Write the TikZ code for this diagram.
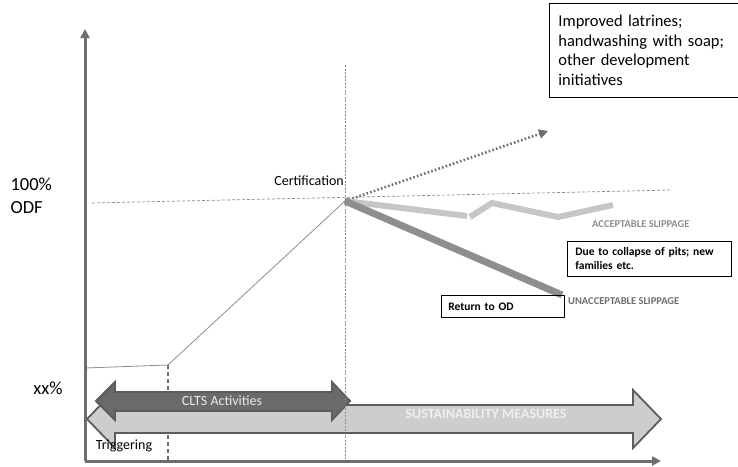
\documentclass[tikz,border=0pt]{standalone}
\usepackage{fontspec}
\setmainfont{Carlito}
\usetikzlibrary{arrows.meta}
\definecolor{axisgray}{HTML}{6E6E6E}
\definecolor{guidegray}{HTML}{8C8C8C}
\definecolor{accgray}{HTML}{C6C6C6}
\definecolor{unaccgray}{HTML}{8E8E8E}
\definecolor{sustfill}{HTML}{CDCDCD}
\definecolor{cltsfill}{HTML}{6A6A6A}
\definecolor{rimgray}{HTML}{5C5C5C}
\tikzset{
    axis/.style={draw=axisgray, line width=3pt, -{Triangle[length=9pt,width=9pt]}},
    guide/.style={draw=guidegray, line width=0.7pt, dash pattern=on 3pt off 2pt},
    slip/.style={line width=6pt},
    band/.style={draw=rimgray, line width=1.8pt, line join=miter},
    note/.style={draw=black, line width=0.8pt, anchor=north west, align=left, inner sep=0pt},
    tag/.style={font=\bfseries\fontsize{10.5}{12}\selectfont, anchor=west, inner sep=0pt}
}

\begin{document}
\begin{tikzpicture}[x=1pt, y=-1pt]
\useasboundingbox (0,0) rectangle (738,466);

\coordinate (O) at (85,461);
\coordinate (ytop) at (85,29);
\coordinate (xend) at (661,461);
\coordinate (start) at (85,368);
\coordinate (trig) at (168,365);
\coordinate (cert) at (345,201);
\coordinate (certtop) at (345,65);
\coordinate (odfl) at (92,203);
\coordinate (odfr) at (672,190);
\coordinate (up) at (548,131);
\coordinate (a1) at (467,216);
\coordinate (a2) at (470,217);
\coordinate (a3) at (492,203);
\coordinate (a4) at (558,217);
\coordinate (a5) at (613,205);
\coordinate (drop) at (562,295);

\node[anchor=west, align=left, font=\fontsize{18.5}{23}\selectfont] (odf) at (7,196) {100\%\\ODF};
\node[font=\fontsize{18.5}{22}\selectfont] (xx) at (48,388) {xx\%};
\node[anchor=east, inner sep=1pt, font=\fontsize{14}{16}\selectfont] (certlbl) at (345,181) {Certification};

\draw[guide] (odfl) -- (odfr);
\draw[draw=guidegray, line width=0.8pt] (start) -- (trig) -- (cert);
\draw[draw=axisgray, line width=1.1pt, dash pattern=on 4pt off 3pt] (trig) -- (trig |- O);

\draw[draw=axisgray, line width=2.6pt, dash pattern=on 1.6pt off 2.2pt, -{Triangle[length=9pt,width=9pt]}] (cert) -- (up);
\draw[slip, accgray] (cert) -- (a1);
\draw[slip, accgray, line join=miter] (a2) -- (a3) -- (a4) -- (a5);
\draw[slip, unaccgray, line width=7pt] (cert) -- (drop);

\node[tag, text=guidegray] (acc) at (592,224) {ACCEPTABLE SLIPPAGE};
\node[tag, text=axisgray] (unacc) at (568,301) {UNACCEPTABLE SLIPPAGE};
\node[note, text width=148pt, minimum height=35pt, inner xsep=8pt, font=\bfseries\fontsize{11.5}{14}\selectfont] (pits) at (567,241) {Due to collapse of pits; new families etc.};
\node[note, text width=109pt, minimum height=22pt, inner xsep=7pt, font=\bfseries\fontsize{11.5}{14}\selectfont] (od) at (441,295) {Return to OD};
\node[note, text width=180pt, minimum height=94pt, inner xsep=9pt, font=\fontsize{16.5}{19.7}\selectfont] (extra) at (549,3) {Improved latrines;\\handwashing with soap;\\other development\\initiatives};

\draw[band, fill=sustfill] (87,419) -- (115,390) -- (115,405) -- (633,405) -- (633,390) -- (661,419)
    -- (633,448) -- (633,433) -- (115,433) -- (115,448) -- cycle;
\draw[band, fill=cltsfill] (96,401) -- (115,382) -- (115,392) -- (332,392) -- (332,382) -- (350,401)
    -- (332,420) -- (332,411) -- (115,411) -- (115,420) -- cycle;
\node[text=white!94!black, font=\bfseries\fontsize{14}{16}\selectfont] (sust) at (486,414) {SUSTAINABILITY MEASURES};
\node[text=white!92!black, font=\fontsize{14}{16}\selectfont] (clts) at (222,401) {CLTS Activities};
\node[font=\fontsize{14}{16}\selectfont] (trigger) at (124,446) {Triggering};

\draw[guide, dash pattern=on 2pt off 1.5pt] (certtop) -- (cert |- O);
\draw[axis] (O) -- (ytop);
\draw[axis] (O) -- (xend);
\end{tikzpicture}
\end{document}
